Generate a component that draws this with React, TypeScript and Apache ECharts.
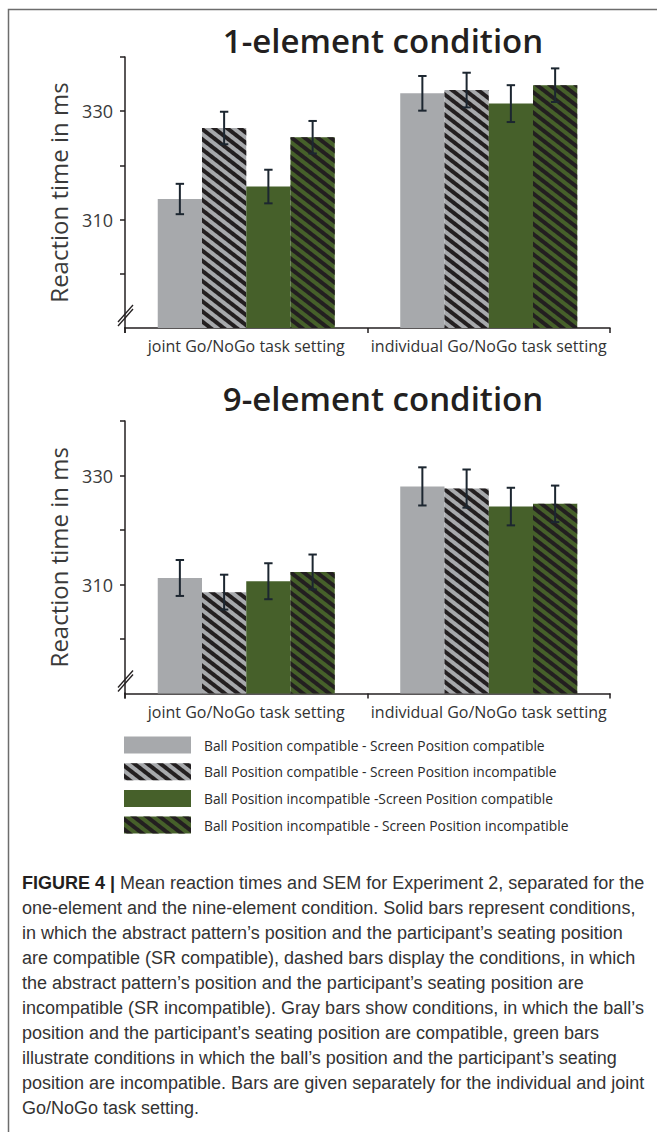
import React, { useEffect, useRef } from "react";
import * as echarts from "echarts";

const seriesNames = [
  "Ball Position compatible - Screen Position compatible",
  "Ball Position compatible - Screen Position incompatible",
  "Ball Position incompatible -Screen Position compatible",
  "Ball Position incompatible - Screen Position incompatible",
];
const categories = ["joint Go/NoGo task setting", "individual Go/NoGo task setting"];

// 1-element condition (means and SEM per series)
const oneJointMeans = [313.8, 326.9, 316.1, 325.2];
const oneJointSem = [2.8, 3.0, 3.1, 3.0];
const oneIndivMeans = [333.3, 333.9, 331.4, 334.8];
const oneIndivSem = [3.2, 3.2, 3.4, 3.1];
// 9-element condition
const nineJointMeans = [311.2, 308.6, 310.6, 312.3];
const nineJointSem = [3.3, 3.2, 3.3, 3.2];
const nineIndivMeans = [328.0, 327.6, 324.3, 324.8];
const nineIndivSem = [3.5, 3.5, 3.45, 3.35];

const yMin = 290;
const yMax = 340;
const yInterval = 10;
const yTickValues = [300, 310, 320, 330, 340];
const yLabelValues = [310, 330];

const panelTitles = ["1-element condition", "9-element condition"];

const captionLines = [
  "{b|FIGURE 4 |} Mean reaction times and SEM for Experiment 2, separated for the",
  "one-element and the nine-element condition. Solid bars represent conditions,",
  "in which the abstract pattern\u2019s position and the participant\u2019s seating position",
  "are compatible (SR compatible), dashed bars display the conditions, in which",
  "the abstract pattern\u2019s position and the participant\u2019s seating position are",
  "incompatible (SR incompatible). Gray bars show conditions, in which the ball\u2019s",
  "position and the participant\u2019s seating position are compatible, green bars",
  "illustrate conditions in which the ball\u2019s position and the participant\u2019s seating",
  "position are incompatible. Bars are given separately for the individual and joint",
  "Go/NoGo task setting.",
];

const GRAY = "#a7a9ac";
const GREEN = "#46602a";
const INK = "#231f20";
const ERR = "#1c2630";
const SANS = "'Open Sans', 'Noto Sans', sans-serif";
const CAPTION_FONT = "'Liberation Sans', Arial, sans-serif";

const hatch = {
  symbol: "rect",
  symbolSize: 1,
  dashArrayX: [1, 0],
  dashArrayY: [4, 3.8],
  rotation: 0.66,
  color: INK,
};

const seriesColors = [GRAY, GRAY, GREEN, GREEN];
const seriesHatched = [false, true, false, true];

const BAR_SPAN = 0.73;

export default function App() {
  const ref = useRef<HTMLDivElement>(null);
  useEffect(() => {
    document.body.style.margin = "0";
    const chart = echarts.init(ref.current!, null, { renderer: "svg" });

    const panels = [
      { means: [oneJointMeans, oneIndivMeans], sem: [oneJointSem, oneIndivSem] },
      { means: [nineJointMeans, nineIndivMeans], sem: [nineJointSem, nineIndivSem] },
    ];
    const grids = [
      { left: 125, top: 57, width: 485, height: 271 },
      { left: 125, top: 421, width: 485, height: 272.5 },
    ];

    const xAxes: any[] = [];
    const yAxes: any[] = [];
    const series: any[] = [];
    panels.forEach((p, g) => {
      xAxes.push({
        type: "category",
        gridIndex: g,
        data: categories,
        axisLine: { lineStyle: { color: INK, width: 1.5 } },
        axisTick: { show: true, length: 5, lineStyle: { color: INK, width: 1.5 } },
        axisLabel: { interval: 0, hideOverlap: false, margin: 10, fontFamily: SANS, fontSize: 16, color: "#333" },
      });
      yAxes.push({
        type: "value",
        gridIndex: g,
        min: yMin,
        max: yMax,
        interval: yInterval,
        name: "Reaction time in ms",
        nameLocation: "middle",
        nameGap: 55,
        nameTextStyle: { fontFamily: SANS, fontSize: 24, color: "#3a3a3a" },
        splitLine: { show: false },
        axisLine: { show: true, lineStyle: { color: INK, width: 1.5 } },
        axisTick: { show: true, length: 5, customValues: yTickValues, lineStyle: { color: INK, width: 1.5 } },
        axisLabel: {
          margin: 12,
          customValues: yLabelValues,
          fontFamily: SANS,
          fontSize: 18,
          color: "#3a3a3a",
          formatter: (v: number) => (yLabelValues.indexOf(v) >= 0 ? String(v) : ""),
        },
      });
      for (let k = 0; k < 4; k++) {
        series.push({
          name: seriesNames[k],
          type: "bar",
          xAxisIndex: g,
          yAxisIndex: g,
          barGap: "0%",
          barCategoryGap: "27%",
          data: [p.means[0][k], p.means[1][k]],
          itemStyle: seriesHatched[k]
            ? { color: seriesColors[k], decal: hatch }
            : { color: seriesColors[k] },
        });
      }
      const errData: number[][] = [];
      for (let c = 0; c < 2; c++) {
        for (let k = 0; k < 4; k++) {
          errData.push([c, k, p.means[c][k] - p.sem[c][k], p.means[c][k] + p.sem[c][k]]);
        }
      }
      series.push({
        type: "custom",
        xAxisIndex: g,
        yAxisIndex: g,
        z: 10,
        data: errData,
        renderItem: (params: any, api: any) => {
          const c = api.value(0);
          const k = api.value(1);
          const lo = api.coord([c, api.value(2)]);
          const hi = api.coord([c, api.value(3)]);
          const band = api.size([1, 0])[0];
          const bw = (band * BAR_SPAN) / 4;
          const x = lo[0] - (band * BAR_SPAN) / 2 + (k + 0.5) * bw;
          const cap = 4.2;
          const st = { stroke: ERR, lineWidth: 2 };
          return {
            type: "group",
            children: [
              { type: "line", shape: { x1: x, y1: lo[1], x2: x, y2: hi[1] }, style: st },
              { type: "line", shape: { x1: x - cap, y1: lo[1], x2: x + cap, y2: lo[1] }, style: st },
              { type: "line", shape: { x1: x - cap, y1: hi[1], x2: x + cap, y2: hi[1] }, style: st },
            ],
          };
        },
      });
    });

    const breakMarks: any[] = [];
    [328, 693.5].forEach((axisY) => {
      const st = { stroke: INK, lineWidth: 1.3 };
      breakMarks.push(
        { type: "line", shape: { x1: 125, y1: axisY - 1, x2: 125, y2: axisY + 5 }, style: { stroke: INK, lineWidth: 1.5 } },
        { type: "line", shape: { x1: 118, y1: axisY - 6, x2: 133, y2: axisY - 23 }, style: st },
        { type: "line", shape: { x1: 118, y1: axisY - 2, x2: 133, y2: axisY - 19 }, style: st }
      );
    });

    chart.setOption({
      animation: false,
      grid: grids,
      xAxis: xAxes,
      yAxis: yAxes,
      series,
      legend: {
        data: seriesNames,
        orient: "vertical",
        left: 124,
        top: 736.5,
        padding: 0,
        itemWidth: 67,
        itemHeight: 17,
        itemGap: 9.7,
        icon: "rect",
        selectedMode: false,
        textStyle: { fontFamily: SANS, fontSize: 13.8, color: "#2a2a2a", lineHeight: 17, padding: [0, 0, 0, 8] },
      },
      graphic: [
        {
          type: "rect",
          silent: true,
          shape: { x: 8.5, y: 9.5, width: 700, height: 1200 },
          style: { fill: "none", stroke: "#6d6d6d", lineWidth: 1.5 },
        },
        {
          type: "text",
          x: 383,
          y: 40.5,
          style: { text: panelTitles[0], fontFamily: SANS, fontSize: 33, fontWeight: 600, fill: INK, align: "center", verticalAlign: "middle" },
        },
        {
          type: "text",
          x: 383,
          y: 398.5,
          style: { text: panelTitles[1], fontFamily: SANS, fontSize: 33, fontWeight: 600, fill: INK, align: "center", verticalAlign: "middle" },
        },
        ...breakMarks,
        {
          type: "text",
          x: 22,
          y: 871,
          style: {
            text: captionLines.join("\n"),
            fontFamily: CAPTION_FONT,
            fontSize: 18,
            lineHeight: 24.9,
            fill: "#333",
            rich: {
              b: { fontFamily: CAPTION_FONT, fontSize: 18, fontWeight: "bold", fill: INK, lineHeight: 24.9 },
            },
          },
        },
      ],
    });
    return () => chart.dispose();
  }, []);
  return <div ref={ref} style={{ width: 657, height: 1132 }} />;
}
